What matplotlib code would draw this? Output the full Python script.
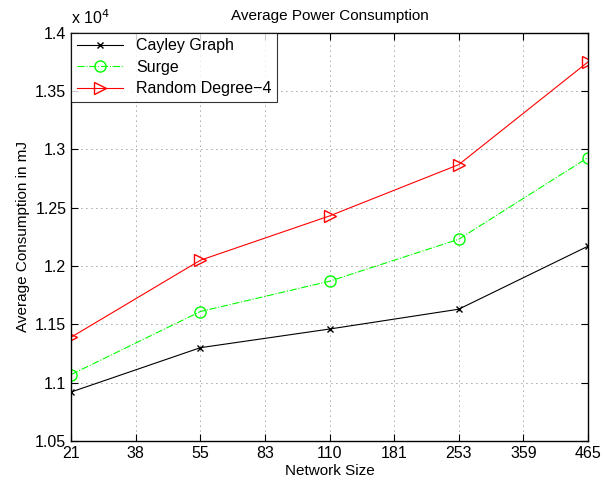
import matplotlib
matplotlib.use('Agg')
import matplotlib.pyplot as plt

# network sizes shown on the x axis (evenly spaced, categorical)
tick_labels = ['21', '38', '55', '83', '110', '181', '253', '359', '465']
sizes = ['21', '55', '110', '253', '465']

# average consumption in units of 1e4 mJ
cayley = [1.092, 1.130, 1.146, 1.163, 1.217]
surge = [1.107, 1.161, 1.187, 1.223, 1.293]
random4 = [1.139, 1.205, 1.243, 1.287, 1.375]

plt.rcParams['font.family'] = ['Liberation Sans', 'DejaVu Sans']

fig = plt.figure(figsize=(6.03, 4.83), dpi=100)
ax = fig.add_axes([0.118, 0.087, 0.857, 0.845])

x = [tick_labels.index(s) for s in sizes]

ax.plot(x, cayley, '-', color='black', marker='x', markersize=5,
        linewidth=0.8, label='Cayley Graph')
ax.plot(x, surge, '-.', color='#00ff00', marker='o', markersize=8,
        markerfacecolor='none', linewidth=0.8, label='Surge')
ax.plot(x, random4, '-', color='red', marker='>', markersize=8,
        markerfacecolor='none', linewidth=0.8, label='Random Degree\u22124')

ax.set_xlim(0, len(tick_labels) - 1)
ax.set_xticks(range(len(tick_labels)))
ax.set_xticklabels(tick_labels)
ax.set_ylim(1.05, 1.4)
ax.set_yticks([1.05, 1.1, 1.15, 1.2, 1.25, 1.3, 1.35, 1.4])
ax.set_yticklabels(['1.05', '1.1', '1.15', '1.2', '1.25', '1.3', '1.35', '1.4'])

ax.tick_params(direction='in', top=True, right=True, labelsize=11.5, length=5)
ax.grid(True, linestyle=(0, (1, 5)), color='black', linewidth=0.6, alpha=0.7)
for s in ax.spines.values():
    s.set_linewidth(1.0)

ax.text(0.0, 1.015, r'x 10$^4$', transform=ax.transAxes, fontsize=11.5,
        ha='left', va='bottom')

ax.set_title('Average Power Consumption', fontsize=11, pad=9)
ax.set_xlabel('Network Size', fontsize=11, labelpad=2)
ax.set_ylabel('Average Consumption in mJ', fontsize=11)

leg = ax.legend(loc='upper left', fontsize=11.5, fancybox=False,
                edgecolor='black', borderaxespad=0, handlelength=2.9,
                borderpad=0.35, labelspacing=0.4)
leg.get_frame().set_linewidth(0.8)

fig.savefig('out.png', dpi=100)
